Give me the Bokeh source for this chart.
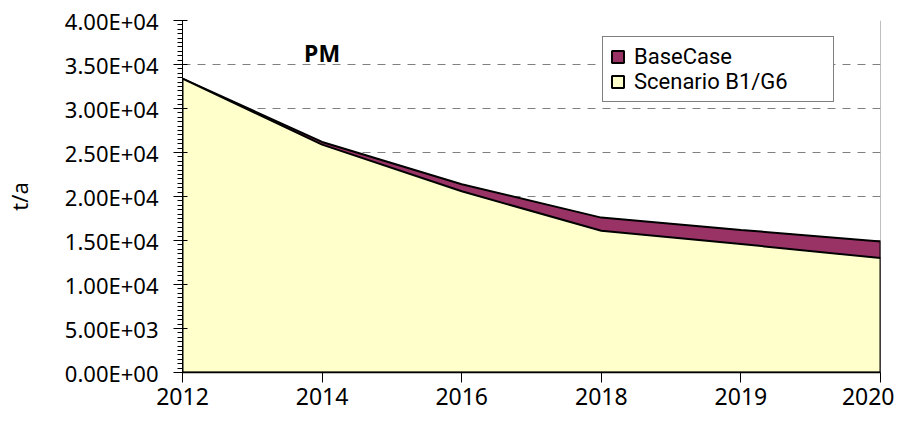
from bokeh.plotting import figure
from bokeh.models import FixedTicker, Span, Label, Legend, LegendItem
from bokeh.embed import file_html
from bokeh.resources import INLINE

years = ["2012", "2014", "2016", "2018", "2019", "2020"]
base_case = [33400, 26200, 21400, 17600, 16200, 14900]
scenario = [33400, 25900, 20600, 16100, 14600, 13000]
y_ticks = [0, 5000, 10000, 15000, 20000, 25000, 30000, 35000, 40000]
y_tick_labels = ["0.00E+00", "5.00E+03", "1.00E+04", "1.50E+04", "2.00E+04",
                 "2.50E+04", "3.00E+04", "3.50E+04", "4.00E+04"]
series_names = ["BaseCase", "Scenario B1/G6"]
annotation_text = "PM"
y_title = "t/a"

FONT = "Noto Sans"
x = list(range(len(years)))

p = figure(width=894, height=412, output_backend="svg", toolbar_location=None,
           x_range=(0, len(years) - 1), y_range=(0, 40000),
           min_border_left=182, min_border_right=14, min_border_top=20,
           min_border_bottom=40, background_fill_color="white",
           border_fill_color="white")
p.outline_line_color = None

xs = x + [x[-1], x[0]]
r_base = p.patch(xs, base_case + [0, 0], fill_color="#993366",
                 line_color="black", line_width=2)
r_scen = p.patch(xs, scenario + [0, 0], fill_color="#FFFFCC",
                 line_color="black", line_width=2)

right_edge = Span(location=x[-1], dimension="height", line_color="#808080",
                  line_width=1, level="underlay")
p.add_layout(right_edge)

# axes
p.xaxis.ticker = FixedTicker(ticks=x)
p.xaxis.major_label_overrides = {i: yr for i, yr in enumerate(years)}
p.xaxis.major_tick_in = 0
p.xaxis.major_tick_out = 10
p.xaxis.minor_tick_line_color = None
p.xaxis.axis_line_color = "black"
p.xaxis.axis_line_width = 1.5
p.xaxis.major_tick_line_color = "black"
p.xaxis.major_label_text_font = FONT
p.xaxis.major_label_text_font_size = "23px"
p.xaxis.major_label_text_color = "black"
p.xaxis.major_label_standoff = 5

minor = [v for v in range(0, 40001, 500)]
p.yaxis.ticker = FixedTicker(ticks=y_ticks, minor_ticks=minor)
p.yaxis.major_label_overrides = dict(zip(y_ticks, y_tick_labels))
p.yaxis.major_tick_in = 5
p.yaxis.major_tick_out = 9
p.yaxis.minor_tick_in = 0
p.yaxis.minor_tick_out = 5
p.yaxis.axis_line_color = "black"
p.yaxis.major_tick_line_color = "black"
p.yaxis.minor_tick_line_color = "black"
p.yaxis.major_label_text_font = FONT
p.yaxis.major_label_text_font_size = "22px"
p.yaxis.major_label_text_color = "black"
p.yaxis.major_label_standoff = 15
p.yaxis.axis_label = y_title
p.yaxis.axis_label_text_font = FONT
p.yaxis.axis_label_text_font_size = "22px"
p.yaxis.axis_label_text_font_style = "normal"
p.yaxis.axis_label_text_color = "black"
p.yaxis.axis_label_standoff = 28

p.xgrid.visible = False
p.ygrid.grid_line_color = "#808080"
p.ygrid.grid_line_dash = "8 7"
p.ygrid.grid_line_width = 1

lbl = Label(x=1, y=36300, text=annotation_text, text_font=FONT,
            text_font_style="bold", text_font_size="23px", text_align="center",
            text_baseline="middle", text_color="black")
p.add_layout(lbl)

legend = Legend(items=[LegendItem(label=series_names[0], renderers=[r_base]),
                       LegendItem(label=series_names[1], renderers=[r_scen])],
                location=(420, 270))
legend.label_text_font = "Roboto"
legend.label_text_font_size = "22px"
legend.label_text_color = "black"
legend.glyph_width = 15
legend.glyph_height = 15
legend.label_height = 20
legend.label_width = 192
legend.spacing = 0
legend.padding = 7
legend.margin = 0
legend.label_standoff = 9
legend.border_line_color = "black"
legend.border_line_width = 1
legend.background_fill_color = "white"
legend.background_fill_alpha = 1
p.add_layout(legend)

open("out.html", "w").write(file_html(p, INLINE))
